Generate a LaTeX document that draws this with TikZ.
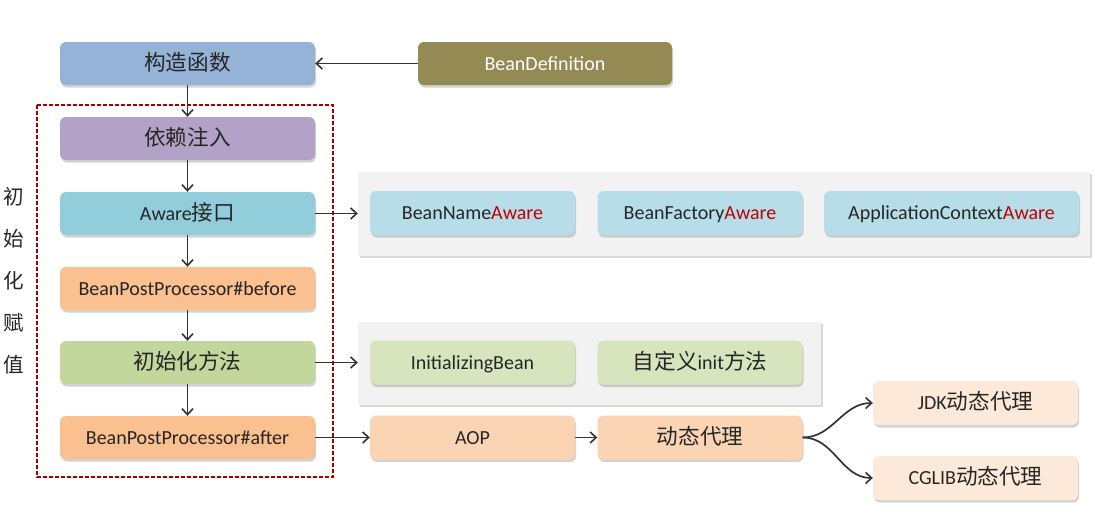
\documentclass[tikz,border=0pt]{standalone}
\usepackage{fontspec}
\setmainfont{Carlito}
\newfontfamily\cjk[Scale=1.08]{Noto Sans CJK SC}
\usetikzlibrary{arrows.meta,shadows}

\definecolor{ctorblue}{HTML}{95B3D7}
\definecolor{defolive}{HTML}{948A54}
\definecolor{injectpurple}{HTML}{B3A2C7}
\definecolor{awareteal}{HTML}{92CDDC}
\definecolor{postorange}{HTML}{FAC090}
\definecolor{initgreen}{HTML}{C3D69B}
\definecolor{lightteal}{HTML}{B7DEE8}
\definecolor{lightgreen}{HTML}{D7E4BD}
\definecolor{lightorange}{HTML}{FBD4B4}
\definecolor{paleorange}{HTML}{FDE9D9}
\definecolor{panelgray}{HTML}{F2F2F2}
\definecolor{framered}{HTML}{A50000}
\definecolor{awarered}{HTML}{C00000}
\definecolor{arrowgray}{HTML}{333333}

\newcommand{\aw}{\textcolor{awarered}{Aware}}

\tikzset{
  box/.style={rounded corners=6pt, minimum width=255pt, minimum height=43pt,
    inner sep=0pt, text height=13.5pt, text depth=0pt, text=black!85,
    font=\fontsize{20}{23}\selectfont,
    drop shadow={shadow xshift=1pt, shadow yshift=-2.5pt, opacity=0.35}},
  smallbox/.style={box, minimum width=205pt, minimum height=44pt},
  panel/.style={fill=panelgray, inner sep=0pt,
    drop shadow={shadow xshift=1.5pt, shadow yshift=-2pt, opacity=0.3}},
  flow/.style={-{Straight Barb[length=6pt,width=11pt,line width=1.6pt]}, line width=1.7pt, draw=arrowgray},
}

\begin{document}
\begin{tikzpicture}[x=1pt, y=-1pt]
  \useasboundingbox (0,0) rectangle (1095,515);

  % Gray panels behind the side nodes
  \node[panel, minimum width=732pt, minimum height=84pt] (awarepanel) at (724,214) {};
  \node[panel, minimum width=463pt, minimum height=83pt] (initpanel) at (589.5,363.5) {};

  % Main chain
  \node[box, fill=ctorblue] (ctor) at (187.5,63.5) {{\cjk 构造函数}};
  \node[box, fill=defolive, text=white, minimum width=254pt] (beandef) at (545,63.5) {BeanDefinition};
  \node[box, fill=injectpurple] (inject) at (187.5,138.5) {{\cjk 依赖注入}};
  \node[box, fill=awareteal] (aware) at (187.5,213.5) {Aware{\cjk 接口}};
  \node[box, fill=postorange] (before) at (187.5,288.5) {BeanPostProcessor\#before};
  \node[box, fill=initgreen] (initm) at (187.5,362.5) {{\cjk 初始化方法}};
  \node[box, fill=postorange] (after) at (187.5,437.5) {BeanPostProcessor\#after};

  % Side nodes
  \node[smallbox, fill=lightteal] (namea) at (472.5,213) {BeanName\aw};
  \node[smallbox, fill=lightteal] (factorya) at (700,213) {BeanFactory\aw};
  \node[smallbox, fill=lightteal, minimum width=255pt] (contexta) at (951.5,213) {ApplicationContext\aw};
  \node[smallbox, fill=lightgreen] (initbean) at (472.5,362.5) {InitializingBean};
  \node[smallbox, fill=lightgreen] (initcustom) at (700,362.5) {{\cjk 自定义}init{\cjk 方法}};
  \node[smallbox, fill=lightorange] (aop) at (472.5,437.5) {AOP};
  \node[smallbox, fill=lightorange] (proxy) at (700,437.5) {{\cjk 动态代理}};
  \node[smallbox, fill=paleorange] (jdk) at (975.5,403) {JDK{\cjk 动态代理}};
  \node[smallbox, fill=paleorange] (cglib) at (975.5,478) {CGLIB{\cjk 动态代理}};

  % Init phase frame and label
  \draw[framered, line width=1.4pt, dash pattern=on 4pt off 2pt] (37,105) rectangle (333,477);
  \node[align=center, font=\cjk\fontsize{19}{42}\selectfont, text=black!85] (phase) at (14,281) {初\\始\\化\\赋\\值};

  % Draw arrows
  \draw[flow] (beandef) -- (ctor);
  \draw[flow] (ctor) -- (inject);
  \draw[flow] (inject) -- (aware);
  \draw[flow] (aware) -- (before);
  \draw[flow] (before) -- (initm);
  \draw[flow] (initm) -- (after);
  \draw[flow] (aware.east) -- (awarepanel.west |- aware.east);
  \draw[flow] (initm.east) -- (initpanel.west |- initm.east);
  \draw[flow] (after) -- (aop);
  \draw[flow] (aop) -- (proxy);
  \draw[flow] (proxy.east) to[out=0, in=180] (jdk.west);
  \draw[flow] (proxy.east) to[out=0, in=180] (cglib.west);
\end{tikzpicture}
\end{document}
